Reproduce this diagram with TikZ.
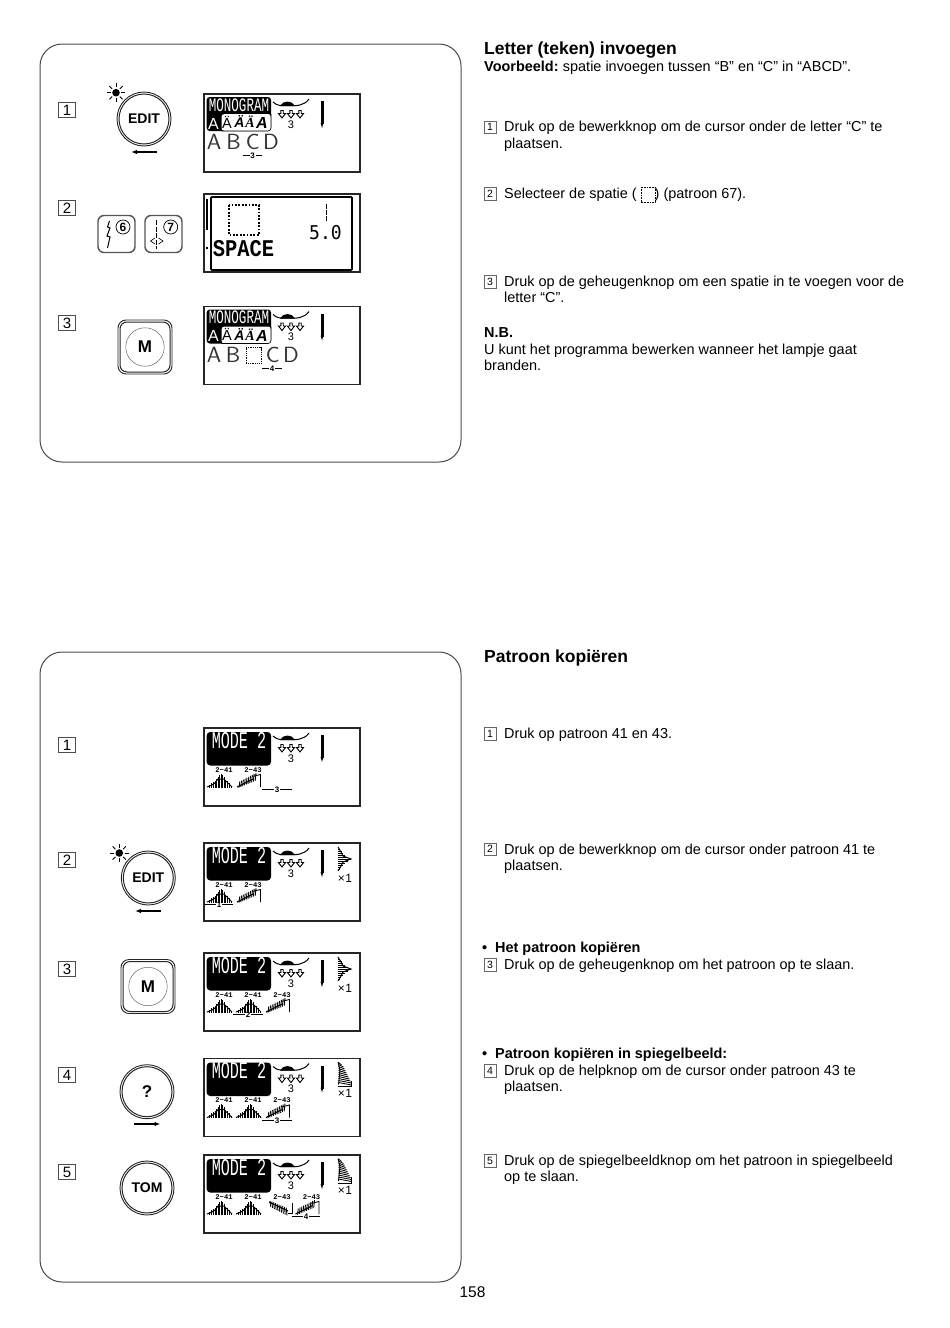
\documentclass[tikz,border=0pt]{standalone}
\usepackage{fontspec}
\setmainfont{Liberation Sans}
\newfontfamily\lcdmono{Liberation Mono}
\newfontfamily\lcdzero{DejaVu Sans Mono}
\newfontfamily\serifit{Liberation Serif}
\usetikzlibrary{arrows.meta}
\definecolor{framegray}{HTML}{4A4A4A}
\definecolor{btngray}{HTML}{555555}
\tikzset{
 panelframe/.style={draw=framegray,line width=1pt,rounded corners=22pt},
 lcdbox/.style={draw=black!85,line width=1.2pt,fill=white},
 stepno/.style={draw=black!70,line width=.7pt,minimum width=17.5pt,minimum height=15.5pt,inner sep=0pt,font=\fontsize{15}{15}\selectfont},
 txtno/.style={draw=black!60,line width=.5pt,minimum width=11.5pt,minimum height=12.5pt,inner sep=0pt,font=\fontsize{10.5}{10.5}\selectfont},
 body/.style={anchor=base west,inner sep=0pt,align=left,font=\fontsize{14.45}{16.6}\selectfont},
 bodybold/.style={anchor=base west,inner sep=0pt,font=\fontsize{14.45}{16.6}\selectfont\bfseries},
 heading/.style={anchor=base west,inner sep=0pt,font=\fontsize{17.5}{17.5}\selectfont\bfseries},
 btnlabel/.style={inner sep=0pt,font=\fontsize{14}{14}\selectfont\bfseries},
 stitch/.style={line width=.85pt},
 cursorline/.style={line width=.8pt},
 stlabel/.style={inner sep=0pt,font=\fontsize{7.2}{7.2}\selectfont\lcdmono\bfseries},
 movearrow/.style={line width=1.4pt,-{Latex[length=6pt,width=4.5pt]}},
 bigletter/.style={inner sep=0pt,text=black!80,text depth=0pt,xscale=1.05,transform shape,font=\fontsize{22}{22}\selectfont\sffamily},
}
\newcommand{\lcdpanel}[2]{\path[lcdbox] (#1,#2) rectangle ++(156,78);}
\newcommand{\footneedle}{%
 \draw[line width=1pt] (69,8) .. controls (73,12) and (78,12) .. (84,11.5) .. controls (92,12) and (100,12) .. (105,5);
 \fill[black] (76,12) .. controls (79,6) and (88,6) .. (91,12) -- cycle;
 \foreach \ax in {78,87,96}{\draw[line width=.9pt,fill=white] (\ax-1.2,16.5) -- (\ax+1.2,16.5) -- (\ax+1.2,19.5) -- (\ax+3.6,19.5) -- (\ax,24) -- (\ax-3.6,19.5) -- (\ax-1.2,19.5) -- cycle;}
 \node[inner sep=0pt,font=\fontsize{11}{11}\selectfont] at (87,30.5) {3};
 \draw[line width=3pt] (118,7) -- (118,30);
 \fill[black] (116.6,29) -- (119.4,29) -- (118,34) -- cycle;
}
\newcommand{\monoblock}{%
 \fill[black,rounded corners=3pt] (2.7,3) rectangle (67,37);
 \fill[white,rounded corners=3pt] (17.5,20) -- (17.5,37) -- (67,37) -- (67,20) -- cycle;
 \draw[line width=.6pt,rounded corners=3pt] (17.5,37) -- (67,37) -- (67,20);
 \node[inner sep=0pt,text=white,xscale=.66,font=\fontsize{19}{19}\selectfont\lcdmono,transform shape] at (35,11) {MONOGRAM};
 \node[inner sep=0pt,text=white,font=\fontsize{16}{16}\selectfont] at (9.5,29.5) {A};
 \node[inner sep=0pt,font=\fontsize{14.5}{14.5}\selectfont] at (23,28) {Ä};
 \node[inner sep=0pt,font=\fontsize{14}{14}\selectfont\itshape\bfseries] at (35.5,28) {Ä};
 \node[inner sep=0pt,font=\fontsize{14}{14}\selectfont\serifit\itshape\bfseries] at (46,28) {Ä};
 \node[inner sep=0pt,font=\fontsize{16}{16}\selectfont\itshape\bfseries] at (58,29) {A};
}
\newcommand{\modeblock}{%
 \fill[black,rounded corners=3.5pt] (2.7,4) rectangle (67,37.5);
 \node[inner sep=0pt,text=white,xscale=.63,font=\fontsize{24}{24}\selectfont\lcdmono,transform shape] at (35,12.5) {MODE 2};
}
\newcommand{\cursorat}[3]{%
 \draw[cursorline] (#1,61.7) -- ({(#1+#2)/2-3},61.7) ({(#1+#2)/2+3},61.7) -- (#2,61.7);
 \node[inner sep=0pt,font=\fontsize{8}{8}\selectfont\bfseries] at ({(#1+#2)/2},62) {#3};
}
\newcommand{\stHump}[1]{%
 \begin{scope}[shift={(#1-20,0)}]
 \node[stlabel] at (20,42) {2−41};
 \draw[line width=1pt] (3,59) -- (8,57) -- (11,55) -- (14,51) -- (20,51) -- (24,55) -- (28,59);
 \foreach \i/\h in {5/3,7/5,9/6,11/7,12.5/9,14/11,15.5/13,17/14,18.5/13,20/11,21.5/8,23/7,25/5,27/2}{\draw[stitch] (\i,59.5) -- (\i,59.5-\h);}
 \end{scope}
}
\newcommand{\stRamp}[1]{%
 \begin{scope}[shift={(#1-49,0)}]
 \node[stlabel] at (49,42) {2−43};
 \draw[line width=1.1pt] (33,59) -- (50,50.5);
 \foreach \i in {35,36.8,...,52}{\draw[stitch] (\i,{60.5-(\i-33)*.42}) -- (\i+.8,{54.5-(\i-33)*.52});}
 \draw[line width=.9pt] (48,48.5) -- (56.5,46.5) -- (56.5,59);
 \end{scope}
}
\newcommand{\stRampM}[1]{%
 \begin{scope}[shift={(#1-78,0)}]
 \node[stlabel] at (78,42) {2−43};
 \draw[line width=1.1pt] (65,47) -- (84,56);
 \foreach \i in {66,67.8,...,84}{\draw[stitch] (\i,{45.5+(\i-65)*.42}) -- (\i+.8,{51.5+(\i-65)*.52});}
 \draw[line width=.9pt] (84,58.5) -- (88.5,58.5) -- (88.5,48);
 \end{scope}
}
\newcommand{\mirrorHump}{%
 \draw[line width=1pt] (134,4) -- (137,9) -- (139,13) -- (147,16) -- (139,19) -- (137,23) -- (134,28);
 \foreach \i/\w in {6/2,8/4,10/5,12/7,14/10,16/13,18/10,20/7,22/5,24/3,26/2}{\draw[stitch] (134,\i) -- (134+\w,\i);}
 \node[inner sep=0pt,font=\fontsize{12}{12}\selectfont] at (141,35) {×\kern.6pt1};
}
\newcommand{\mirrorRamp}{%
 \draw[line width=.9pt] (134,3.5) -- (136,12) -- (134.5,26);
 \foreach \i/\w in {5/3,7/5,9/6,11/7,13/8,15/9,17/10,19/11,21/12,23/13,25/13}{\draw[stitch] (134.5,\i-1) -- (134.5+\w,\i+1.5);}
 \draw[line width=1pt] (134,28) -- (147,28) -- (147,22);
 \node[inner sep=0pt,font=\fontsize{12}{12}\selectfont] at (141,35) {×\kern.6pt1};
}
\newcommand{\sunat}[2]{%
 \begin{scope}[shift={(#1,#2)}]
 \fill[black] (0,0) circle (3.8);
 \foreach \a in {0,45,...,315}{\draw[line width=.8pt] (\a:5.4) -- (\a:9.4);}
 \end{scope}
}
\newcommand{\ringbutton}[4]{%
 \node[circle,draw=black!85,line width=.9pt,minimum size=54pt,inner sep=0pt] (#3outer) at (#1,#2) {};
 \node[circle,draw=black!85,line width=1pt,minimum size=50pt,btnlabel] (#3) at (#1,#2) {#4};
}
\newcommand{\mbutton}[3]{%
 \node[rectangle,rounded corners=8pt,draw=black!85,line width=.9pt,minimum size=54pt,inner sep=0pt] (#3outer) at (#1,#2) {};
 \node[rectangle,rounded corners=7pt,draw=black!85,line width=1pt,minimum size=50pt,inner sep=0pt] (#3inner) at (#1,#2) {};
 \node[circle,draw=black!60,line width=.5pt,minimum size=38.5pt,btnlabel,font=\fontsize{17}{17}\selectfont\bfseries] (#3) at (#1,#2) {M};
}
\begin{document}
\begin{tikzpicture}[x=1pt,y=-1pt]
\useasboundingbox (0,0) rectangle (950,1328);
\fill[white] (0,0) rectangle (950,1328);
\draw[panelframe] (40,44) rectangle (461,462);
\draw[panelframe] (40,652) rectangle (461,1282);
\node[stepno] (n1) at (67,110) {1};
\node[stepno] (n2) at (67,208) {2};
\node[stepno] (n3) at (67,323) {3};
\node[stepno] (m1) at (67,745) {1};
\node[stepno] (m2) at (67,860) {2};
\node[stepno] (m3) at (67,969) {3};
\node[stepno] (m4) at (67,1075) {4};
\node[stepno] (m5) at (67,1172) {5};
\sunat{116}{92.7}
\ringbutton{144}{119}{editA}{EDIT}
\coordinate (a1r) at (157,152); \coordinate (a1l) at (131,152);
\draw[movearrow] (a1r) -- (a1l);
\node[draw=btngray,line width=1.4pt,rounded corners=6pt,minimum size=37pt,inner sep=0pt] (b6) at (116.5,234) {};
\node[circle,draw=black,line width=.7pt,minimum size=14pt,inner sep=0pt,font=\fontsize{12}{12}\selectfont\bfseries] (c6) at (123,227) {6};
\draw[line width=1pt] (109.5,221) -- (107.5,227) -- (110,228) -- (107,236) -- (110,237) -- (107.5,248);
\node[draw=btngray,line width=1.4pt,rounded corners=6pt,minimum size=37pt,inner sep=0pt] (b7) at (163.5,234) {};
\node[circle,draw=black,line width=.7pt,minimum size=14pt,inner sep=0pt,font=\fontsize{12}{12}\selectfont\bfseries] (c7) at (170.7,227) {7};
\draw[line width=.8pt,dash pattern=on 5pt off 1.5pt] (156.8,220) -- (156.8,249);
\draw[line width=.6pt] (155,238) -- (150.5,241) -- (155,244) (158.5,238) -- (163,241) -- (158.5,244);
\mbutton{145}{347}{mA}
\sunat{119.3}{853}
\ringbutton{148.3}{878}{editB}{EDIT}
\coordinate (a2r) at (161,911); \coordinate (a2l) at (135,911);
\draw[movearrow] (a2r) -- (a2l);
\mbutton{148}{986.5}{mB}
\ringbutton{147}{1091.7}{helpB}{\fontsize{17}{17}\selectfont ?}
\coordinate (a3l) at (134,1124); \coordinate (a3r) at (160.5,1124);
\draw[movearrow] (a3l) -- (a3r);
\ringbutton{147}{1188}{tomB}{TOM}
\lcdpanel{204}{94}
\begin{scope}[shift={(204,94)}]
 \monoblock\footneedle
 \node[bigletter] at (10,48) {A};
 \node[bigletter] at (29.7,48) {B};
 \node[bigletter] at (48.7,48) {C};
 \node[bigletter] at (67,48) {D};
 \cursorat{39}{58}{3}
\end{scope}
\lcdpanel{204}{194}
\begin{scope}[shift={(204,194)}]
 \draw[line width=1.8pt,rounded corners=1pt] (7,3) rectangle (148,76);
 \draw[line width=1.8pt] (3,5) -- (3,36);
 \fill[black] (2,53) rectangle (3.5,55);
 \draw[line width=1.8pt,dash pattern=on 1.8pt off 1.6pt] (25,11) rectangle (55,41);
 \draw[line width=1.1pt,dash pattern=on 5pt off 1.2pt] (122.6,10) -- (122.6,27);
 \node[inner sep=0pt,xscale=.95,font=\fontsize{19}{19}\selectfont\lcdzero,transform shape] at (121.5,38.5) {5.0};
 \node[inner sep=0pt,xscale=.85,font=\fontsize{24}{24}\selectfont\lcdmono\bfseries,transform shape] at (39.5,55) {SPACE};
\end{scope}
\lcdpanel{204}{306.5}
\begin{scope}[shift={(204,306.5)}]
 \monoblock\footneedle
 \node[bigletter] at (10,48.5) {A};
 \node[bigletter] at (29,48.5) {B};
 \draw[line width=.8pt,dash pattern=on .9pt off .9pt] (42,41) rectangle (57,57);
 \node[bigletter] at (68.7,48.5) {C};
 \node[bigletter] at (87,48.5) {D};
 \cursorat{58}{78}{4}
\end{scope}
\lcdpanel{204}{728}
\begin{scope}[shift={(204,728)}]
 \modeblock\footneedle
 \stHump{20}\stRamp{49}
 \cursorat{58}{88}{3}
\end{scope}
\lcdpanel{204}{843}
\begin{scope}[shift={(204,843)}]
 \modeblock\footneedle\mirrorHump
 \stHump{20}\stRamp{49}
 \cursorat{1}{29}{1}
\end{scope}
\lcdpanel{204}{953}
\begin{scope}[shift={(204,953)}]
 \modeblock\footneedle\mirrorHump
 \stHump{20}\stHump{49}\stRamp{78}
 \cursorat{29}{59}{2}
\end{scope}
\lcdpanel{204}{1058.5}
\begin{scope}[shift={(204,1058.5)}]
 \modeblock\footneedle\mirrorRamp
 \stHump{20}\stHump{49}\stRamp{78}
 \cursorat{58}{88}{3}
\end{scope}
\lcdpanel{204}{1155}
\begin{scope}[shift={(204,1155)}]
 \modeblock\footneedle\mirrorRamp
 \stHump{20}\stHump{49}\stRampM{78}\stRamp{107.5}
 \cursorat{88}{116}{4}
\end{scope}
\node[heading] (h1) at (484,54) {Letter (teken) invoegen};
\node[body] (t0) at (484,71) {\textbf{Voorbeeld:}\kern-1pt{} spatie invoegen tussen “B” en “C” in “ABCD”.};
\node[txtno] (x1) at (490,127) {1};
\node[body] (t1) at (504,148.3) {Druk op de bewerkknop om de cursor onder de letter “C” te\\plaatsen.};
\node[txtno] (x2) at (490,193.5) {2};
\node[body] (t2) at (504,198) {Selecteer de spatie (\hspace{18pt}) (patroon 67).};
\draw[line width=.7pt,dash pattern=on .8pt off .8pt] (641,187) rectangle (655,202);
\node[txtno] (x3) at (490,281.5) {3};
\node[body] (t3) at (504,302.6) {Druk op de geheugenknop om een spatie in te voegen voor de\\letter “C”.};
\node[bodybold] (t4) at (484,337) {N.B.};
\node[body] (t5) at (484,370.6) {U kunt het programma bewerken wanneer het lampje gaat\\branden.};
\node[heading] (h2) at (484,662) {Patroon kopiëren};
\node[txtno] (y1) at (490,733.5) {1};
\node[body] (u1) at (504,738) {Druk op patroon 41 en 43.};
\node[txtno] (y2) at (490,849) {2};
\node[body] (u2) at (504,870.6) {Druk op de bewerkknop om de cursor onder patroon 41 te\\plaatsen.};
\node[bodybold] (b1) at (482,952) {•};
\node[bodybold] (u3) at (495,952) {Het patroon kopiëren};
\node[txtno] (y3) at (490,964.5) {3};
\node[body] (u4) at (504,969) {Druk op de geheugenknop om het patroon op te slaan.};
\node[bodybold] (b2) at (482,1058) {•};
\node[bodybold] (u5) at (495,1058) {Patroon kopiëren in spiegelbeeld:};
\node[txtno] (y4) at (490,1070.5) {4};
\node[body] (u6) at (504,1091.6) {Druk op de helpknop om de cursor onder patroon 43 te\\plaatsen.};
\node[txtno] (y5) at (490,1160.5) {5};
\node[body] (u7) at (504,1181.6) {Druk op de spiegelbeeldknop om het patroon in spiegelbeeld\\op te slaan.};
\node[inner sep=0pt,font=\fontsize{15.5}{15.5}\selectfont] (pg) at (472.5,1292) {158};
\end{tikzpicture}
\end{document}
